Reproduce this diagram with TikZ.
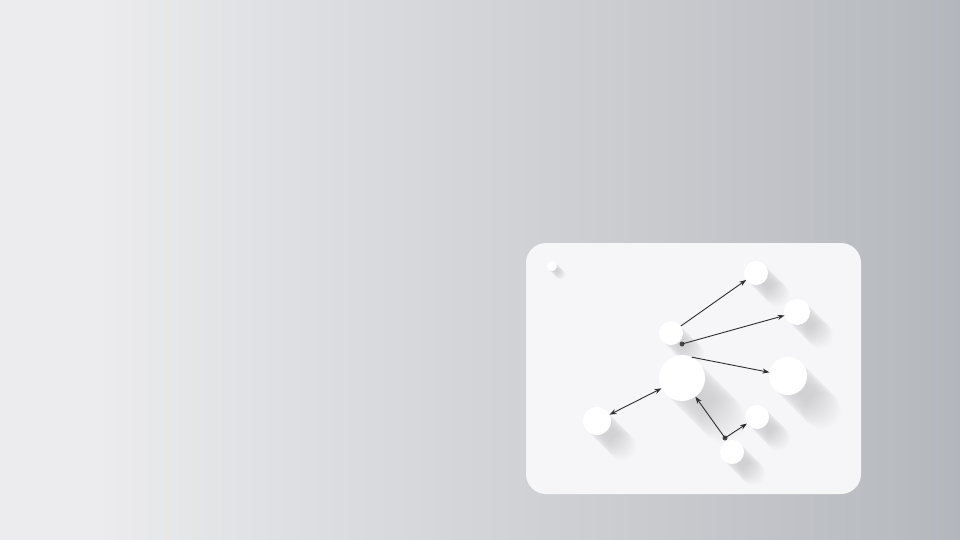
\documentclass[tikz,border=0pt]{standalone}
\usepackage{tikz}
\usetikzlibrary{arrows,arrows.meta,positioning,shapes}

\definecolor{bgleft}{HTML}{ECECEF}
\definecolor{bgright}{HTML}{B3B6BC}
\definecolor{panel}{HTML}{F6F6F8}
\definecolor{ink}{HTML}{2E2E30}
\definecolor{dotgray}{HTML}{4A4A4E}

\pgfdeclarehorizontalshading{bgfade}{100bp}{color(0bp)=(bgleft); color(25bp)=(bgleft);
	color(30bp)=(bgleft); color(40bp)=(rgb,255:red,222;green,223;blue,226);
	color(50bp)=(rgb,255:red,211;green,212;blue,216); color(61bp)=(rgb,255:red,198;green,200;blue,204);
	color(72bp)=(rgb,255:red,184;green,187;blue,192); color(75bp)=(bgright); color(100bp)=(bgright)}

\tikzset{
	ball/.style={circle,fill=white,inner sep=0pt,outer sep=0pt,minimum size=#1},
	link/.style={draw=ink,line width=0.9pt,-{Stealth[length=7pt,width=5pt]}},
	both/.style={draw=ink,line width=0.9pt,{Stealth[length=7pt,width=5pt]}-{Stealth[length=7pt,width=5pt]}},
	pin/.style={circle,fill=dotgray,inner sep=0pt,minimum size=5pt}
}

% long shadow behind a ball: centre, radius
\newcommand{\longshade}[3]{%
	\foreach \k in {1,...,24}
		\fill[black,opacity=0.009] (#1+\k*0.075*#3,#2+\k*0.075*#3) circle (#3);
}

\begin{document}
\begin{tikzpicture}[x=1pt,y=-1pt]
		\useasboundingbox (0,0) rectangle (960,540);
		\shade[shading=bgfade] (0,0) rectangle (960,540);
		
		\fill[panel,rounded corners=20pt] (526,243) rectangle (861,494);
		
		\longshade{552}{266}{5}
		\longshade{756}{273}{12}
		\longshade{797}{312}{13}
		\longshade{671}{333}{12}
		\longshade{682}{378}{23}
		\longshade{788}{376}{19}
		\longshade{597}{421}{14}
		\longshade{757}{417}{12}
		\longshade{732}{452}{12}
		
		\node[ball=10pt] (tiny) at (552,266) {};
		\node[ball=24pt] (top) at (756,273) {};
		\node[ball=26pt] (right) at (797,312) {};
		\node[ball=24pt] (upper) at (671,333) {};
		\node[ball=46pt] (hub) at (682,378) {};
		\node[ball=38pt] (far) at (788,376) {};
		\node[ball=28pt] (left) at (597,421) {};
		\node[ball=24pt] (side) at (757,417) {};
		\node[ball=24pt] (low) at (732,452) {};
		
		\node[pin] (dotA) at (682,344) {};
		\node[pin] (dotB) at (725,438) {};
		
		\draw[link] (upper) -- (top);
		\draw[link] (dotA.center) -- (right);
		\draw[link] (hub.65) -- (far);
		\draw[both] (left) -- (hub);
		\draw[link] (dotB.center) -- (hub);
		\draw[link] (dotB.center) -- (side);
		\end{tikzpicture}
\end{document}
